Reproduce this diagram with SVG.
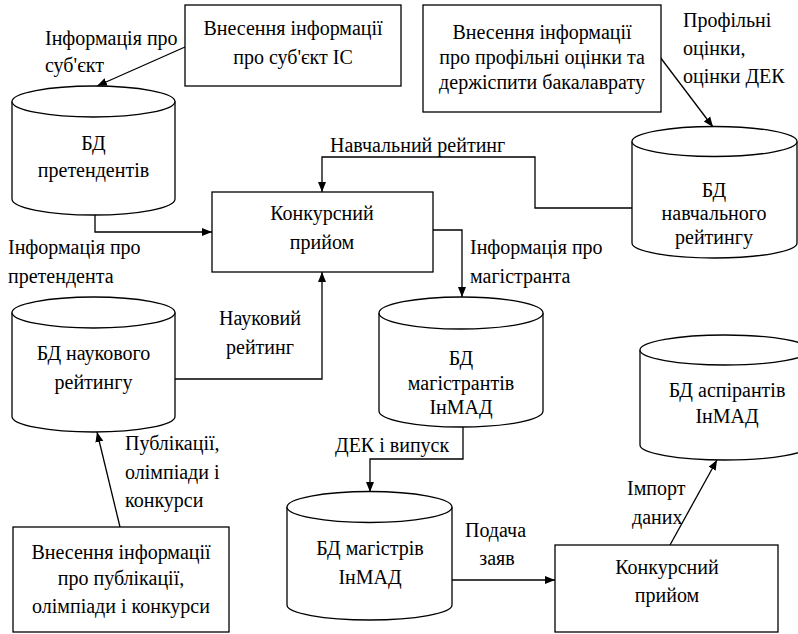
<svg xmlns="http://www.w3.org/2000/svg" width="798" height="634" viewBox="0 0 798 634">
<style>
text{font-family:'Liberation Serif','DejaVu Serif','Times New Roman',serif;font-size:20px;fill:#000}
.c{text-anchor:middle}
.box{fill:#fff;stroke:#000;stroke-width:1.3}
.cyl{fill:#fff;stroke:#000;stroke-width:1.3}
.ln{fill:none;stroke:#000;stroke-width:1.3}
</style>
<defs>
<marker id="ah" viewBox="0 0 10 10" refX="10" refY="5" markerWidth="10" markerHeight="10" markerUnits="userSpaceOnUse" orient="auto">
<path d="M0,1 L10,5 L0,9 Z" fill="#000"/>
</marker>
</defs>
<rect width="798" height="634" fill="#fff"/>

<g id="connectors" font-family="Liberation Serif, DejaVu Serif, serif">
<line class="ln" x1="185" y1="47" x2="97" y2="86" marker-end="url(#ah)"/>
<line class="ln" x1="660" y1="57" x2="713" y2="127" marker-end="url(#ah)"/>
<path class="ln" d="M632,208 H535 V157 H322 V192" marker-end="url(#ah)"/>
<path class="ln" d="M95,215 V232 H212" marker-end="url(#ah)"/>
<path class="ln" d="M433,230 H462 V297" marker-end="url(#ah)"/>
<path class="ln" d="M175,379 H322 V272" marker-end="url(#ah)"/>
<line class="ln" x1="120" y1="527" x2="97" y2="432" marker-end="url(#ah)"/>
<path class="ln" d="M463,427 V459 H370 V492" marker-end="url(#ah)"/>
<path class="ln" d="M452,580 H555" marker-end="url(#ah)"/>
<line class="ln" x1="670" y1="545" x2="717" y2="460" marker-end="url(#ah)"/>
<text x="45" y="45">Інформація про</text>
<text x="45" y="72">суб'єкт</text>
<text x="683" y="27">Профільні</text>
<text x="683" y="55">оцінки,</text>
<text x="683" y="83">оцінки ДЕК</text>
<text x="330" y="152">Навчальний рейтинг</text>
<text x="8" y="254">Інформація про</text>
<text x="8" y="283">претендента</text>
<text x="470" y="254">Інформація про</text>
<text x="470" y="283">магістранта</text>
<text class="c" x="260" y="325">Науковий</text>
<text class="c" x="260" y="354">рейтинг</text>
<text x="125" y="450">Публікації,</text>
<text x="125" y="479">олімпіади і</text>
<text x="125" y="507">конкурси</text>
<text x="335" y="452">ДЕК і випуск</text>
<text x="465" y="537">Подача</text>
<text class="c" x="497" y="565">заяв</text>
<text x="627" y="495">Імпорт</text>
<text x="632" y="524">даних</text>
</g>

<g id="box-subject">
<rect class="box" x="185" y="5" width="216" height="81"/>
<text class="c" x="293" y="35">Внесення інформації</text>
<text class="c" x="293" y="64">про суб'єкт ІС</text>
</g>

<g id="box-profile">
<rect class="box" x="423" y="5" width="238" height="107"/>
<text class="c" x="542" y="39">Внесення інформації</text>
<text class="c" x="542" y="64">про профільні оцінки та</text>
<text class="c" x="542" y="89">держіспити бакалаврату</text>
</g>

<g id="db-applicants">
<path class="cyl" d="M12,101.5 V199 A81.5,16 0 0 0 175,199 V101.5"/>
<ellipse class="cyl" cx="93.5" cy="101.5" rx="81.5" ry="15.5"/>
<text class="c" x="93.5" y="150">БД</text>
<text class="c" x="93.5" y="177">претендентів</text>
</g>

<g id="db-study-rating">
<path class="cyl" d="M632,141.5 V243 A82.5,15 0 0 0 797,243 V141.5"/>
<ellipse class="cyl" cx="714.5" cy="141.5" rx="82.5" ry="15"/>
<text class="c" x="714" y="197">БД</text>
<text class="c" x="714" y="220">навчального</text>
<text class="c" x="714" y="244">рейтингу</text>
</g>

<g id="main-contest">
<rect class="box" x="212" y="192" width="221" height="80"/>
<text class="c" x="322" y="220">Конкурсний</text>
<text class="c" x="322" y="249">прийом</text>
</g>

<g id="db-science-rating">
<path class="cyl" d="M12,312.5 V416.5 A81.5,15.5 0 0 0 175,416.5 V312.5"/>
<ellipse class="cyl" cx="93.5" cy="312.5" rx="81.5" ry="15.5"/>
<text class="c" x="93.5" y="360">БД наукового</text>
<text class="c" x="93.5" y="389">рейтингу</text>
</g>

<g id="db-masters-students">
<path class="cyl" d="M379,313 V411 A82,16 0 0 0 543,411 V313"/>
<ellipse class="cyl" cx="461" cy="313" rx="82" ry="16"/>
<text class="c" x="461" y="365">БД</text>
<text class="c" x="461" y="390">магістрантів</text>
<text class="c" x="461" y="414">ІнМАД</text>
</g>

<g id="db-postgrads">
<path class="cyl" d="M640,350 V445 A85,15 0 0 0 810,445 V350"/>
<ellipse class="cyl" cx="725" cy="350" rx="85" ry="15"/>
<text class="c" x="727" y="397">БД аспірантів</text>
<text class="c" x="727" y="423">ІнМАД</text>
</g>

<g id="db-masters">
<path class="cyl" d="M287,507 V605 A82.5,15 0 0 0 452,605 V507"/>
<ellipse class="cyl" cx="369.5" cy="507" rx="82.5" ry="15.5"/>
<text class="c" x="370" y="555">БД магістрів</text>
<text class="c" x="370" y="584">ІнМАД</text>
</g>

<g id="box-publications">
<rect class="box" x="13" y="527" width="216" height="105"/>
<text class="c" x="121" y="559">Внесення інформації</text>
<text class="c" x="121" y="585">про публікації,</text>
<text class="c" x="121" y="613">олімпіади і конкурси</text>
</g>

<g id="box-contest-2">
<rect class="box" x="555" y="545" width="223" height="87"/>
<text class="c" x="667" y="574">Конкурсний</text>
<text class="c" x="667" y="602">прийом</text>
</g>
</svg>
